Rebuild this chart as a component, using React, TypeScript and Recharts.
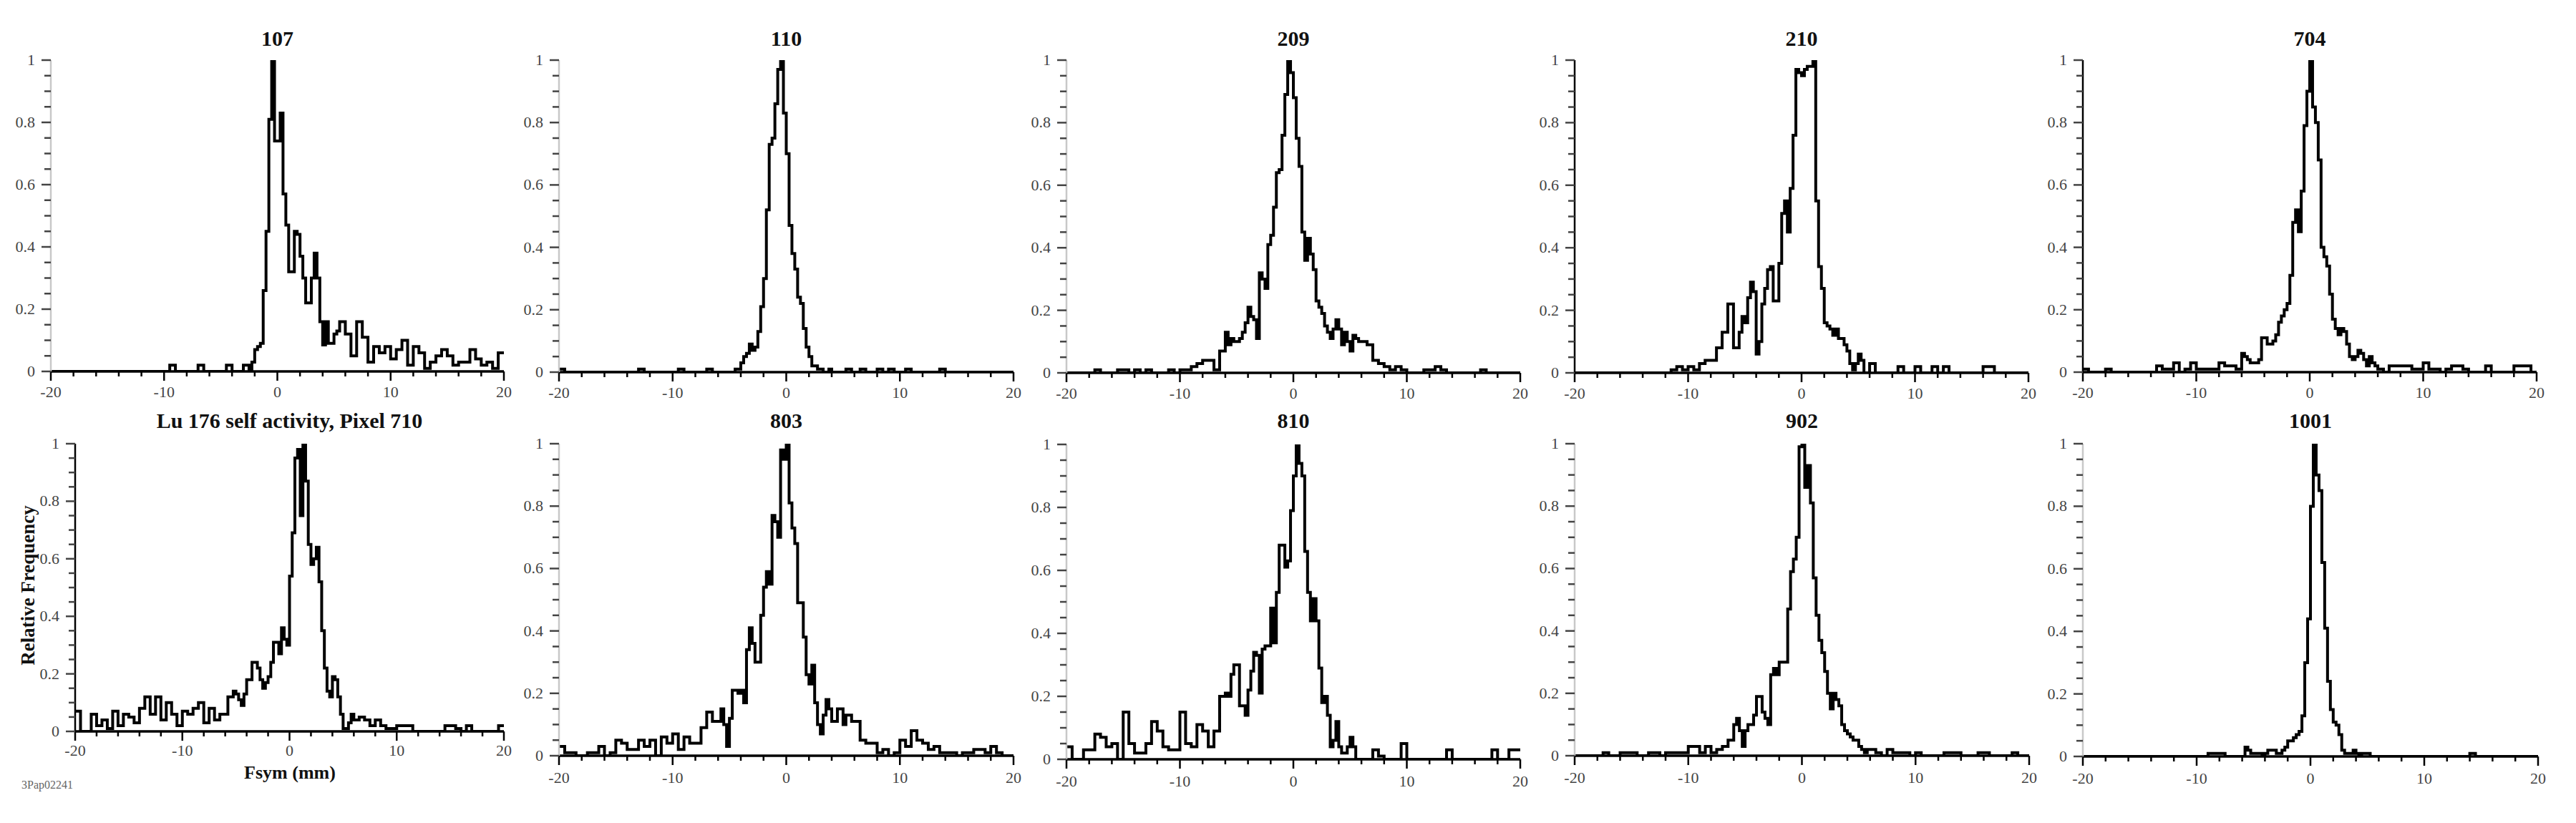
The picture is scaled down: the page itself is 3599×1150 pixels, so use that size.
import React from 'react';
import { LineChart, Line, XAxis, YAxis } from 'recharts';

// Histogram bin edges (mm): 0.5 mm bins in the tails, 0.25 mm bins in the core
const TAIL_LEFT_START = -20;
const CORE_START = -6;
const TAIL_RIGHT_START = 6;

const X_TICKS = [-20, -18, -16, -14, -12, -10, -8, -6, -4, -2, 0, 2, 4, 6, 8, 10, 12, 14, 16, 18, 20];
const X_LABELS = [-20, -10, 0, 10, 20];
const Y_TICKS = [0, 0.05, 0.1, 0.15, 0.2, 0.25, 0.3, 0.35, 0.4, 0.45, 0.5, 0.55, 0.6, 0.65, 0.7, 0.75, 0.8, 0.85, 0.9, 0.95, 1];
const Y_LABELS = [0, 0.2, 0.4, 0.6, 0.8, 1];

// ---- Panel 107
const P107_L = [0,0,0,0,0, 0,0,0,0,0, 0,0,0,0,0, 0,0,0,0,0, 0,0.02,0,0,0, 0,0.02,0];
const P107_C = [0,0,0,0,0, 0,0.02,0.02,0,0,
  0,0,0.02,0.02,0, 0.03,0.07,0.08,0.09,0.26,
  0.45,0.81,1,0.74,0.74, 0.83,0.57,0.47,0.32,0.32,
  0.45,0.44,0.37,0.30,0.22, 0.22,0.30,0.38,0.30,0.16,
  0.085,0.16,0.09,0.09,0.12, 0.13,0.16,0.16];
const P107_R = [0.12,0.05,0.16,0.11,0.03, 0.08,0.06,0.08,0.04,0.07, 0.10,0.02,0.08,0.06,0.01, 0.03,0.05,0.07,0.05,0.02, 0.03,0.03,0.07,0.04,0.02, 0.03,0.01,0.06];

// ---- Panel 110
const P110_L = [0.01,0,0,0,0, 0,0,0,0,0, 0,0,0,0,0.01, 0,0,0,0,0, 0,0.01,0,0,0, 0,0.01,0];
const P110_C = [0,0,0,0,0, 0,0.01,0.01,0.03,0.05,
  0.06,0.09,0.07,0.08,0.13, 0.21,0.30,0.52,0.73,0.75,
  0.86,0.97,1,0.83,0.70, 0.47,0.38,0.33,0.24,0.22,
  0.14,0.08,0.05,0.02,0.02, 0.01,0.01,0,0,0.01,
  0,0,0,0,0, 0.01,0.01,0];
const P110_R = [0,0.01,0,0,0.01, 0,0.01,0,0,0.01, 0,0,0,0,0, 0.01,0,0,0,0, 0,0,0,0,0, 0,0,0];

// ---- Panel 209
const P209_L = [0,0,0,0,0, 0.01,0,0,0,0.01, 0.01,0,0.01,0,0.01, 0,0,0,0.01,0, 0.01,0.01,0.02,0.03,0.04, 0.04,0.01,0.07];
const P209_C = [0.13,0.09,0.11,0.10,0.10, 0.11,0.13,0.16,0.21,0.18,
  0.17,0.11,0.32,0.30,0.27, 0.41,0.44,0.53,0.64,0.65,
  0.76,0.89,1,0.96,0.88, 0.75,0.66,0.45,0.36,0.43,
  0.38,0.33,0.23,0.21,0.19, 0.15,0.13,0.11,0.14,0.17,
  0.14,0.09,0.13,0.10,0.07, 0.12,0.11,0.10];
const P209_R = [0.10,0.09,0.04,0.03,0.02, 0.01,0.02,0.01,0,0, 0,0.01,0.01,0.02,0.01, 0,0,0,0,0, 0,0.01,0,0,0, 0,0,0];

// ---- Panel 210
const P210_L = [0,0,0,0,0, 0,0,0,0,0, 0,0,0,0,0, 0,0,0.01,0.02,0.01, 0.02,0.01,0.03,0.04,0.04, 0.08,0.13,0.22];
const P210_C = [0.08,0.08,0.13,0.18,0.16, 0.24,0.29,0.26,0.06,0.10,
  0.22,0.27,0.33,0.34,0.23, 0.23,0.35,0.51,0.55,0.45,
  0.59,0.76,0.97,0.96,0.95, 0.97,0.98,0.98,1,0.55,
  0.34,0.27,0.16,0.15,0.14, 0.12,0.14,0.11,0.11,0.09,
  0.07,0.03,0.01,0.03,0.06, 0.04,0,0];
const P210_R = [0.03,0,0,0,0, 0.02,0,0,0.02,0, 0,0.02,0,0.02,0, 0,0,0,0,0, 0.02,0.02,0,0,0, 0,0,0];

// ---- Panel 704
const P704_L = [0.01,0,0,0,0.01, 0,0,0,0,0, 0,0,0,0.02,0.01, 0.01,0.03,0,0.01,0.03, 0.01,0.01,0.01,0.01,0.03, 0.02,0.02,0.01];
const P704_C = [0.06,0.05,0.04,0.03,0.03, 0.03,0.04,0.11,0.11,0.09,
  0.09,0.10,0.12,0.16,0.18, 0.20,0.22,0.31,0.48,0.52,
  0.45,0.58,0.79,0.90,1, 0.85,0.80,0.68,0.40,0.37,
  0.34,0.25,0.17,0.14,0.12, 0.14,0.13,0.09,0.05,0.04,
  0.05,0.07,0.06,0.04,0.02, 0.05,0.03,0.02];
const P704_R = [0.01,0,0.02,0.02,0.02, 0.02,0.01,0.01,0.03,0.01, 0.01,0,0.01,0.02,0.02, 0.01,0,0,0,0.02, 0,0,0,0,0.02, 0.02,0.02,0];

// ---- Panel Lu 176 self activity, Pixel 710
const P710_L = [0.07,0,0,0.06,0.02, 0.04,0.01,0.07,0.02,0.06, 0.05,0.03,0.08,0.12,0.06, 0.12,0.04,0.10,0.06,0.02, 0.07,0.06,0.08,0.10,0.03, 0.08,0.04,0.06];
const P710_C = [0.06,0.12,0.12,0.14,0.13, 0.11,0.09,0.13,0.18,0.18,
  0.24,0.24,0.22,0.18,0.15, 0.17,0.19,0.24,0.31,0.31,
  0.27,0.36,0.32,0.30,0.54, 0.69,0.95,0.98,0.75,1,
  0.87,0.65,0.58,0.60,0.64, 0.52,0.35,0.22,0.14,0.12,
  0.19,0.18,0.12,0.06,0.01, 0.01,0.03,0.06];
const P710_R = [0.04,0.05,0.04,0.02,0.04, 0.02,0.01,0.01,0.02,0.02, 0.02,0,0,0,0, 0,0,0.02,0.02,0.01, 0,0.02,0,0,0, 0,0,0.02];

// ---- Panel 803
const P803_L = [0.03,0.01,0.01,0,0, 0.01,0.01,0.03,0,0.01, 0.05,0.04,0.02,0.02,0.05, 0.03,0.05,0,0.06,0.04, 0.07,0.02,0.06,0.04,0.04, 0.09,0.14,0.11];
const P803_C = [0.11,0.15,0.10,0.03,0.12, 0.21,0.21,0.20,0.21,0.17,
  0.34,0.41,0.36,0.30,0.30, 0.45,0.54,0.59,0.55,0.77,
  0.75,0.70,0.98,0.95,1, 0.81,0.73,0.68,0.49,0.49,
  0.38,0.26,0.23,0.29,0.17, 0.10,0.07,0.13,0.18,0.15,
  0.11,0.11,0.15,0.15,0.10, 0.13,0.13,0.11];
const P803_R = [0.11,0.05,0.04,0.04,0.01, 0.02,0,0.01,0.05,0.03, 0.08,0.05,0.04,0.02,0.03, 0.01,0.01,0.01,0,0.01, 0.01,0.02,0.02,0.01,0.03, 0.01,0,0];

// ---- Panel 810
const P810_L = [0.04,0,0,0.03,0.03, 0.08,0.07,0.04,0.05,0, 0.15,0.05,0.02,0.02,0.05, 0.12,0.09,0.04,0.03,0.03, 0.15,0.05,0.04,0.11,0.09, 0.04,0.09,0.20];
const P810_C = [0.21,0.20,0.27,0.30,0.30, 0.17,0.17,0.14,0.22,0.28,
  0.34,0.33,0.21,0.35,0.36, 0.36,0.48,0.37,0.53,0.68,
  0.68,0.61,0.63,0.79,0.90, 1,0.94,0.90,0.66,0.53,
  0.44,0.51,0.44,0.29,0.18, 0.20,0.14,0.04,0.06,0.12,
  0.04,0.02,0.02,0.04,0.07, 0.04,0,0];
const P810_R = [0,0,0.03,0.01,0, 0,0,0.05,0,0, 0,0,0,0,0, 0.03,0,0,0,0, 0,0,0,0.03,0, 0,0.03,0.03];

// ---- Panel 902
const P902_L = [0,0,0,0,0, 0.01,0,0,0.01,0.01, 0.01,0,0,0.01,0.01, 0,0.01,0.01,0.01,0.01, 0.03,0.03,0.01,0.03,0.01, 0.02,0.03,0.05];
const P902_C = [0.10,0.12,0.08,0.03,0.08, 0.10,0.10,0.13,0.19,0.19,
  0.14,0.12,0.10,0.26,0.28, 0.26,0.30,0.30,0.30,0.47,
  0.59,0.63,0.70,0.99,1, 0.86,0.93,0.81,0.57,0.45,
  0.37,0.33,0.27,0.20,0.15, 0.20,0.18,0.16,0.10,0.08,
  0.07,0.06,0.05,0.05,0.03, 0.02,0.01,0.02];
const P902_R = [0.02,0.01,0,0.02,0.01, 0.01,0.01,0,0.01,0, 0,0,0,0.01,0.01, 0.01,0,0,0,0.01, 0.01,0,0,0,0, 0.01,0,0];

// ---- Panel 1001
const P1001_L = [0,0,0,0,0, 0,0,0,0,0, 0,0,0,0,0, 0,0,0,0,0, 0,0,0.01,0.01,0.01, 0,0,0];
const P1001_C = [0,0.03,0.02,0.01,0.01, 0.01,0.01,0,0.01,0.02,
  0.02,0.02,0.01,0.01,0.02, 0.03,0.05,0.05,0.06,0.07,
  0.08,0.13,0.30,0.44,0.80, 1,0.90,0.85,0.62,0.41,
  0.24,0.15,0.11,0.10,0.07, 0.02,0.01,0.01,0.01,0.02,
  0.01,0,0.01,0.01,0.01, 0,0,0];
const P1001_R = [0,0,0,0,0, 0,0,0,0,0, 0,0,0,0,0, 0,0.01,0,0,0, 0,0,0,0,0, 0,0,0];

const TITLES = ['107', '110', '209', '210', '704', 'Lu 176 self activity, Pixel 710', '803', '810', '902', '1001'];

const buildEdges = (): number[] => {
  const e: number[] = [];
  for (let i = 0; i < 28; i++) e.push(TAIL_LEFT_START + 0.5 * i);
  for (let j = 0; j < 48; j++) e.push(CORE_START + 0.25 * j);
  for (let k = 0; k < 28; k++) e.push(TAIL_RIGHT_START + 0.5 * k);
  e.push(20);
  return e;
};
const EDGES = buildEdges();

const toRows = (L: number[], C: number[], R: number[]) => {
  const v = [...L, ...C, ...R];
  v.push(v[v.length - 1]);
  return EDGES.map((x, i) => ({ x, y: v[i] }));
};

const SERIES = [
  toRows(P107_L, P107_C, P107_R),
  toRows(P110_L, P110_C, P110_R),
  toRows(P209_L, P209_C, P209_R),
  toRows(P210_L, P210_C, P210_R),
  toRows(P704_L, P704_C, P704_R),
  toRows(P710_L, P710_C, P710_R),
  toRows(P803_L, P803_C, P803_R),
  toRows(P810_L, P810_C, P810_R),
  toRows(P902_L, P902_C, P902_R),
  toRows(P1001_L, P1001_C, P1001_R),
];

// Layout: plot boxes [left, right, top(y=1), bottom(y=0)], y-axis line colour, title baseline, x-label offset
const LAYOUT = [
  { box: [71, 704, 84, 519], yAxis: '#c8c8c8', titleY: 64, lblDy: 36 },
  { box: [781, 1416, 84, 520], yAxis: '#c8c8c8', titleY: 64, lblDy: 36 },
  { box: [1490, 2124, 84, 521], yAxis: '#c8c8c8', titleY: 64, lblDy: 36 },
  { box: [2200, 2834, 84, 521], yAxis: '#000', titleY: 64, lblDy: 36 },
  { box: [2910, 3544, 84, 520], yAxis: '#000', titleY: 64, lblDy: 36 },
  { box: [105, 704, 620, 1022], yAxis: '#000', titleY: 598, lblDy: 34 },
  { box: [781, 1416, 620, 1056], yAxis: '#c8c8c8', titleY: 598, lblDy: 38 },
  { box: [1490, 2124, 621, 1061], yAxis: '#c8c8c8', titleY: 598, lblDy: 38 },
  { box: [2200, 2835, 620, 1056], yAxis: '#c8c8c8', titleY: 598, lblDy: 38 },
  { box: [2910, 3546, 620, 1057], yAxis: '#c8c8c8', titleY: 598, lblDy: 38 },
];

const FONT = "'Liberation Serif', 'Times New Roman', serif";
const ML = 70, MR = 20, MT = 14, MB = 56;

const isYLabel = (v: number) => Y_LABELS.some((l) => Math.abs(l - v) < 1e-6);

const makeXTick = (lblDy: number) => (props: any) => {
  const { x, y, payload } = props;
  const major = X_LABELS.includes(payload.value);
  return (
    <g>
      <line x1={x} x2={x} y1={y} y2={y + (major ? 13 : 7)} stroke="#000" strokeWidth={2.5} />
      {major && (
        <text x={x} y={y + lblDy} textAnchor="middle" fontFamily={FONT} fontSize={22} fill="#444">
          {String(payload.value)}
        </text>
      )}
    </g>
  );
};

const YTick = (props: any) => {
  const { x, y, payload } = props;
  const major = isYLabel(payload.value);
  return (
    <g>
      <line x1={x - (major ? 13 : 9)} x2={x} y1={y} y2={y} stroke="#444" strokeWidth={2.5} />
      {major && (
        <text x={x - 22} y={y + 7} textAnchor="end" fontFamily={FONT} fontSize={22} fill="#444">
          {String(payload.value)}
        </text>
      )}
    </g>
  );
};

function Panel({ idx }: { idx: number }) {
  const L = LAYOUT[idx];
  const [x0, x1, yTop, yBot] = L.box;
  const W = x1 - x0 + ML + MR;
  const H = yBot - yTop + MT + MB;
  return (
    <div style={{ position: 'absolute', left: x0 - ML, top: yTop - MT, width: W, height: H }}>
      <LineChart width={W} height={H} data={SERIES[idx]} margin={{ top: MT, right: MR, bottom: 0, left: 0 }}>
        <XAxis
          type="number"
          dataKey="x"
          domain={[-20, 20]}
          ticks={X_TICKS}
          interval={0}
          height={MB}
          tickSize={0}
          tickMargin={0}
          tickLine={false}
          axisLine={{ stroke: '#000', strokeWidth: 3.5 }}
          tick={makeXTick(L.lblDy)}
          allowDataOverflow
        />
        <YAxis
          type="number"
          domain={[0, 1]}
          ticks={Y_TICKS}
          interval={0}
          width={ML}
          tickSize={0}
          tickMargin={0}
          tickLine={false}
          axisLine={{ stroke: L.yAxis, strokeWidth: 2.5 }}
          tick={YTick}
          allowDataOverflow
        />
        <Line
          type="stepAfter"
          dataKey="y"
          stroke="#000"
          strokeWidth={4}
          dot={false}
          isAnimationActive={false}
        />
      </LineChart>
    </div>
  );
}

export default function App() {
  return (
    <div style={{ position: 'absolute', left: 0, top: 0, width: 3599, height: 1150, background: '#fff' }}>
      {LAYOUT.map((_, i) => (
        <Panel key={i} idx={i} />
      ))}
      <svg width={3599} height={1150} style={{ position: 'absolute', left: 0, top: 0, pointerEvents: 'none' }}>
        {LAYOUT.map((L, i) => (
          <text
            key={i}
            x={(L.box[0] + L.box[1]) / 2}
            y={L.titleY}
            textAnchor="middle"
            fontFamily={FONT}
            fontWeight="bold"
            fontSize={30}
            fill="#111"
          >
            {TITLES[i]}
          </text>
        ))}
        <text
          x={0}
          y={0}
          transform="translate(48,818) rotate(-90)"
          textAnchor="middle"
          fontFamily={FONT}
          fontWeight="bold"
          fontSize={27}
          fill="#111"
        >
          Relative Frequency
        </text>
        <text x={405} y={1088} textAnchor="middle" fontFamily={FONT} fontWeight="bold" fontSize={26} fill="#111">
          Fsym (mm)
        </text>
        <text x={30} y={1102} fontFamily={FONT} fontSize={16} fill="#666">
          3Pap02241
        </text>
      </svg>
    </div>
  );
}
